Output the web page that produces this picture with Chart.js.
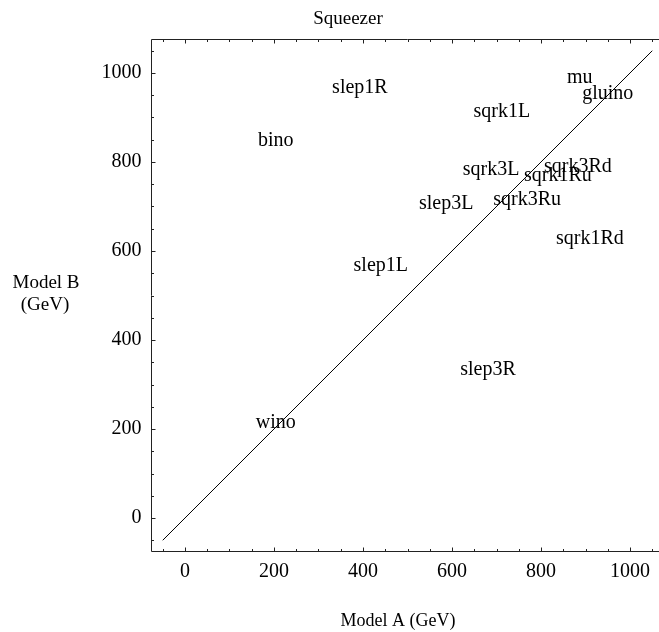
<!DOCTYPE html>
<html>
<head>
<meta charset="utf-8">
<script src="https://cdn.jsdelivr.net/npm/chart.js@4/dist/chart.umd.min.js"></script>
<style>
  html, body { margin: 0; padding: 0; background: #fff; overflow: hidden; }
  #wrap { width: 700px; height: 632px; }
</style>
</head>
<body>
<div id="wrap"><canvas id="c" width="700" height="632"></canvas></div>
<script>
// Particle masses (GeV) in the two models
const particles = ['slep1R', 'bino', 'sqrk1L', 'mu', 'gluino', 'sqrk3L', 'sqrk3Rd',
                   'sqrk1Ru', 'slep3L', 'sqrk3Ru', 'sqrk1Rd', 'slep1L', 'slep3R', 'wino'];
const massA = [393, 204, 712, 887, 950, 688, 883, 838, 587, 769, 910, 440, 681, 204];
const massB = [966, 847, 912, 989, 953, 782, 789, 769, 706, 715, 627, 566, 333, 213];

// Reference diagonal: Model B = Model A
const diagA = [-50, 1050];
const diagB = [-50, 1050];

// Axis ticks
const majorTicks = [0, 200, 400, 600, 800, 1000];
const allTicks = [-50, 0, 50, 100, 150, 200, 250, 300, 350, 400, 450, 500, 550,
                  600, 650, 700, 750, 800, 850, 900, 950, 1000, 1050];
const axisMin = -75, axisMax = 1075;

const SERIF = "'Liberation Serif', 'Times New Roman', serif";

const framePlugin = {
  id: 'framePlugin',
  afterDraw(chart) {
    const { ctx, chartArea: a, scales } = chart;
    const xs = scales.x, ys = scales.y;
    ctx.save();
    // frame
    ctx.strokeStyle = '#222';
    ctx.lineWidth = 1;
    const L = Math.round(a.left) - 0.5, R = Math.round(a.right) + 0.5;
    const T = Math.round(a.top) - 0.5, B = Math.round(a.bottom) + 0.5;
    ctx.beginPath();
    ctx.rect(L, T, R - L, B - T);
    ctx.stroke();
    // inward ticks
    ctx.beginPath();
    allTicks.forEach(v => {
      const len = majorTicks.includes(v) ? 4 : 2.5;
      const px = Math.round(xs.getPixelForValue(v)) + 0.5;
      ctx.moveTo(px, B); ctx.lineTo(px, B - len);
      ctx.moveTo(px, T); ctx.lineTo(px, T + len);
      const py = Math.round(ys.getPixelForValue(v)) + 0.5;
      ctx.moveTo(L, py); ctx.lineTo(L + len, py);
      ctx.moveTo(R, py); ctx.lineTo(R - len, py);
    });
    ctx.stroke();

    // particle names at their mass points
    ctx.fillStyle = '#000';
    ctx.font = '20px ' + SERIF;
    ctx.textAlign = 'center';
    ctx.textBaseline = 'middle';
    const meta = chart.getDatasetMeta(1);
    meta.data.forEach((pt, i) => {
      ctx.fillText(particles[i], pt.x, pt.y);
    });

    // titles
    ctx.font = '19px ' + SERIF;
    ctx.fillText('Squeezer', 348, 19);
    ctx.font = '18px ' + SERIF;
    ctx.fillText('Model A (GeV)', 398, 621);
    ctx.font = '19px ' + SERIF;
    ctx.fillText('Model B', 46, 283);
    ctx.fillText('(GeV)', 45, 305);
    ctx.restore();
  }
};

const tickOpts = {
  autoSkip: false,
  maxRotation: 0,
  minRotation: 0,
  color: '#000',
  font: { family: SERIF, size: 20 },
  callback: v => majorTicks.includes(v) ? String(v) : ''
};

new Chart(document.getElementById('c'), {
  type: 'scatter',
  data: {
    datasets: [
      {
        data: diagA.map((a, i) => ({ x: a, y: diagB[i] })),
        showLine: true,
        borderColor: '#000',
        borderWidth: 1,
        pointRadius: 0,
        fill: false
      },
      {
        data: massA.map((a, i) => ({ x: a, y: massB[i] })),
        pointRadius: 0,
        showLine: false
      }
    ]
  },
  options: {
    responsive: false,
    animation: false,
    devicePixelRatio: 1,
    layout: { padding: { top: 39.6, right: 36.6, left: 0, bottom: 0 } },
    plugins: { legend: { display: false }, tooltip: { enabled: false }, title: { display: false } },
    scales: {
      x: {
        type: 'linear',
        min: axisMin, max: axisMax,
        afterBuildTicks: s => { s.ticks = allTicks.map(v => ({ value: v })); },
        afterFit: s => { s.height = 80.6; },
        grid: { display: false, drawTicks: false },
        border: { display: false },
        ticks: Object.assign({ padding: 8 }, tickOpts)
      },
      y: {
        type: 'linear',
        min: axisMin, max: axisMax,
        afterBuildTicks: s => { s.ticks = allTicks.map(v => ({ value: v })); },
        afterFit: s => { s.width = 151.6; },
        grid: { display: false, drawTicks: false },
        border: { display: false },
        ticks: Object.assign({ padding: 10 }, tickOpts)
      }
    }
  },
  plugins: [framePlugin]
});
</script>
</body>
</html>
